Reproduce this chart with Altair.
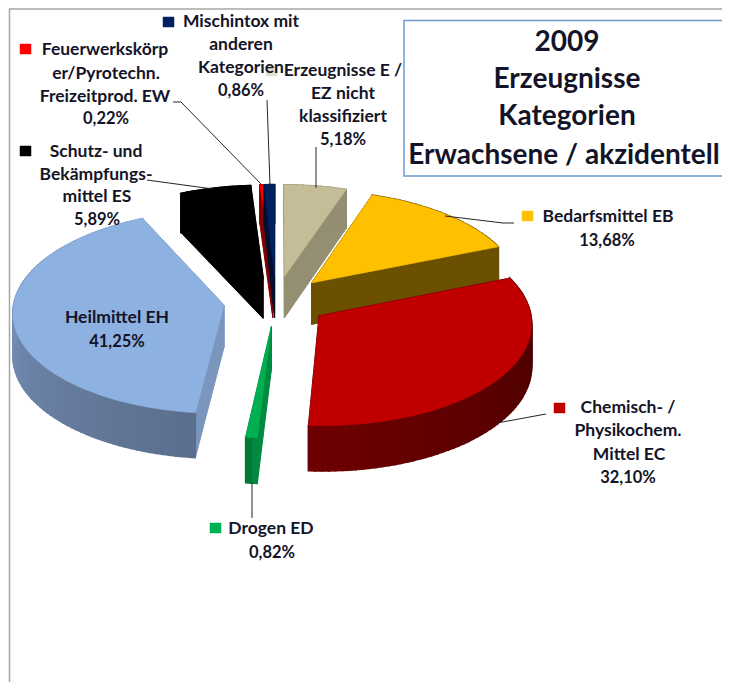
import math
import altair as alt

# ---- chart values ----
names = ["Erzeugnisse E / EZ nicht klassifiziert", "Bedarfsmittel EB", "Chemisch- / Physikochem. Mittel EC",
         "Drogen ED", "Heilmittel EH", "Schutz- und Bekämpfungsmittel ES",
         "Feuerwerkskörper/Pyrotechn. Freizeitprod. EW", "Mischintox mit anderen Kategorien"]
shares = [5.18, 13.68, 32.10, 0.82, 41.25, 5.89, 0.22, 0.86]
top_colors = ["#c4bd97", "#ffc000", "#c00000", "#00b050", "#8db1e1", "#000000", "#ff0000", "#002060"]
wall_from = ["#948f72", "#6b5000", "#430000", "#008a40", "#5b6e8d", "#000000", "#800000", "#001030"]
wall_to = ["#948f72", "#6b5000", "#6e0000", "#006630", "#86a5d2", "#000000", "#800000", "#001030"]
radial_colors = ["#948f72", "#6b5000", "#4a0000", "#008a40", "#7a96bd", "#000000", "#800000", "#001030"]
paint_order = [0, 5, 6, 7, 1, 4, 3, 2]

# ---- tilted, exploded pie model ----
CX, CY, RX, RY, PERSP, DEPTH, EXPLODE = 276, 301, 210, 100.7, 0.065, 42, 0.25


def project(theta, r, mid):
    u = r * math.sin(theta) + EXPLODE * math.sin(mid)
    v = r * math.cos(theta) + EXPLODE * math.cos(mid)
    w = 1 + PERSP * v
    return CX + RX * u / w, CY - RY * v / w, DEPTH / w


def shade(a, b, t):
    ca = [int(a[i:i + 2], 16) for i in (1, 3, 5)]
    cb = [int(b[i:i + 2], 16) for i in (1, 3, 5)]
    return "#%02x%02x%02x" % tuple(round(x + (y - x) * t) for x, y in zip(ca, cb))


def shape(coords, fill, stroke=None, sw=0.5):
    ring = [[x - 8, y - 8] for x, y in coords]
    ring.append(ring[0])
    return {"type": "Feature",
            "properties": {"fill": fill, "stroke": stroke or fill, "sw": sw},
            "geometry": {"type": "Polygon", "coordinates": [ring]}}


def path(coords, stroke, sw=1.0):
    return {"type": "Feature",
            "properties": {"fill": "transparent", "stroke": stroke, "sw": sw},
            "geometry": {"type": "LineString", "coordinates": [[x - 8, y - 8] for x, y in coords]}}


edges = [0.0]
for s in shares:
    edges.append(edges[-1] + s)

features = []

# sheet frame
features.append(path([(9.5, 682), (9.5, 9), (722, 9)], "#a6a6a6", 1.5))

for i in paint_order:
    a0 = edges[i] / 100 * 2 * math.pi
    a1 = edges[i + 1] / 100 * 2 * math.pi
    mid = (a0 + a1) / 2
    n = max(2, int((a1 - a0) / 0.03))
    angs = [a0 + (a1 - a0) * k / n for k in range(n + 1)]
    rim = [project(t, 1, mid) for t in angs]
    apex = project(0, 0, mid)
    # radial walls
    for p in (rim[0], rim[-1]):
        features.append(shape([(apex[0], apex[1]), (p[0], p[1]), (p[0], p[1] + p[2]),
                               (apex[0], apex[1] + apex[2])], radial_colors[i], sw=1))
    # outer wall, strip by strip
    for k in range(n):
        p, q = rim[k], rim[k + 1]
        col = shade(wall_from[i], wall_to[i], k / n)
        features.append(shape([(p[0], p[1]), (q[0], q[1]), (q[0], q[1] + q[2]), (p[0], p[1] + p[2])], col, sw=1.5))
    # top face
    features.append(shape([(apex[0], apex[1])] + [(p[0], p[1]) for p in rim], top_colors[i],
                          sw=1.5 if top_colors[i] == "#000000" else 0.5))

# leader lines
ink = "#262626"
for line in [
    [(173, 102), (181, 102), (262, 185)],
    [(267, 100), (270, 185)],
    [(316, 147), (316, 188)],
    [(147, 180), (213, 189)],
    [(445, 216), (503, 223), (514, 223)],
    [(497, 423), (546, 414)],
    [(252, 483), (252, 518)],
]:
    features.append(path(line, ink, 1))

# legend keys
for x, y, c in [(163, 17, "#002060"), (20, 44, "#ff0000"), (20, 146, "#000000"), (522, 211, "#ffc000"),
                (554, 403, "#c00000"), (210, 523, "#00b050"), (266, 66, "#e4e1d0")]:
    features.append(shape([(x, y), (x + 11, y), (x + 11, y + 10), (x, y + 10)], c))

# title box
features.append(path([(722, 20.5), (404, 20.5), (404, 176), (722, 176)], "#6f9bd0", 1.5))

labels = [
    ("Mischintox mit", 241, 22), ("anderen", 241, 45), ("Kategorien", 241, 68),
    ("Feuerwerkskörp", 105, 50), ("er/Pyrotechn.", 106, 74), ("Freizeitprod. EW", 105, 97),
    ("Schutz- und", 96, 152), ("Bekämpfungs-", 96, 175), ("mittel  ES", 97, 197),
    ("Erzeugnisse E /", 343, 71), ("EZ nicht", 343, 94), ("klassifiziert", 343, 117),
    ("Bedarfsmittel EB", 608, 217),
    ("Heilmittel EH", 117, 318),
    ("Chemisch- /", 628, 408), ("Physikochem.", 628, 431), ("Mittel EC", 629, 455),
    ("Drogen ED", 271, 529),
]
percents = [
    ("0,86%", 241, 91), ("0,22%", 106, 119), ("5,89%", 97, 220), ("5,18%", 343, 140), ("13,68%", 607, 241),
    ("41,25%", 117, 342), ("32,10%", 628, 478), ("0,82%", 272, 553),
]
titles = [("2009", 567, 43), ("Erzeugnisse", 567, 80), ("Kategorien", 567, 117), ("Erwachsene / akzidentell", 564, 156)]

PROJ = {"type": "identity", "scale": 1, "translate": [0, 0]}

shapes = alt.Chart(alt.Data(values=features)).mark_geoshape().encode(
    fill=alt.Fill("properties.fill:N", scale=None),
    stroke=alt.Stroke("properties.stroke:N", scale=None),
    strokeWidth=alt.StrokeWidth("properties.sw:Q", scale=None),
).project(**PROJ)


def text_layer(rows, size):
    data = alt.Data(values=[{"t": t, "lon": x - 8, "lat": y - 8} for t, x, y in rows])
    return alt.Chart(data).mark_text(font="Lato", fontWeight="bold", fontSize=size, color="#141428",
                                     align="center", baseline="middle").encode(
        longitude="lon:Q", latitude="lat:Q", text="t:N"
    ).project(**PROJ)


chart = alt.layer(shapes, text_layer(labels, 17.5), text_layer(percents, 16.5), text_layer(titles, 28)).properties(
    width=715, height=675, padding=0
).configure_view(stroke=None)

chart.save("out.html", embed_options={"renderer": "svg", "actions": False})
